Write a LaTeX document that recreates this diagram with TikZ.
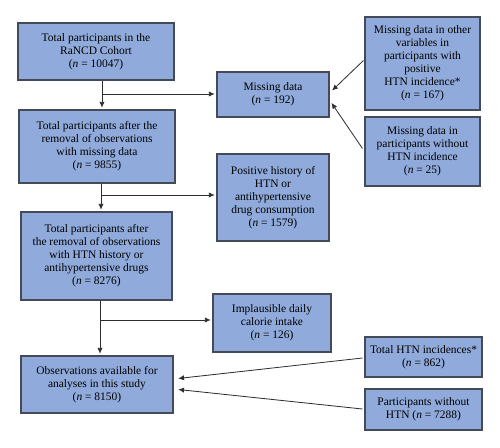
\documentclass[tikz,border=0pt]{standalone}
\usepackage{fontspec}
\setmainfont{Liberation Serif}
\usetikzlibrary{arrows.meta,calc}
\definecolor{boxfill}{RGB}{143,170,219}
\definecolor{boxline}{RGB}{68,74,86}
\definecolor{arrline}{RGB}{45,45,45}
\tikzset{
box/.style={draw=boxline,fill=boxfill,line width=0.9pt,align=center,inner sep=0pt,font=\fontsize{9.8}{11.1}\selectfont},
arr/.style={draw=arrline,line width=0.7pt,-{Latex[length=5pt,width=4.5pt]},shorten >=1.5pt}
}
\begin{document}
\begin{tikzpicture}[x=0.03cm,y=-0.03cm]
\useasboundingbox (0,0) rectangle (500,448);

\node[box,minimum width=4.68cm,minimum height=1.71cm] (total) at (96,51.5) {Total participants in the\\RaNCD Cohort\\(\textit{n} = 10047)};
\node[box,minimum width=4.68cm,minimum height=2.19cm] (removed) at (97,146.5) {Total participants after the\\removal of observations\\with missing data\\(\textit{n} = 9855)};
\node[box,minimum width=4.53cm,minimum height=2.64cm] (nohtn) at (96.5,256) {Total participants after\\the removal of observations\\with HTN history or\\antihypertensive drugs\\(\textit{n} = 8276)};
\node[box,minimum width=4.56cm,minimum height=1.71cm] (final) at (97,384.5) {Observations available for\\analyses in this study\\(\textit{n} = 8150)};

\node[box,minimum width=3.36cm,minimum height=1.35cm] (missing) at (273,94.5) {Missing data\\(\textit{n} = 192)};
\node[box,minimum width=3.36cm,minimum height=2.61cm] (history) at (273,197.5) {Positive history of\\HTN or\\antihypertensive\\drug consumption\\(\textit{n} = 1579)};
\node[box,minimum width=3.54cm,minimum height=1.74cm] (calorie) at (272,323) {Implausible daily\\calorie intake\\(\textit{n} = 126)};

\node[box,minimum width=3.45cm,minimum height=2.79cm] (misspos) at (422.5,63.5) {Missing data in other\\variables in\\participants with\\positive\\HTN incidence*\\(\textit{n} = 167)};
\node[box,minimum width=3.45cm,minimum height=2.07cm] (missneg) at (422.5,151.5) {Missing data in\\participants without\\HTN incidence\\(\textit{n} = 25)};
\node[box,minimum width=3.51cm,minimum height=1.2cm] (inc) at (423.5,357) {Total HTN incidences*\\(\textit{n} = 862)};
\node[box,minimum width=3.51cm,minimum height=1.23cm] (noinc) at (423.5,409.5) {Participants without\\HTN (\textit{n} = 7288)};

\coordinate (j1) at (102,94);
\coordinate (j2) at (101,195);
\coordinate (j3) at (100,320);

\draw[arr] (total.south -| j1) -- (removed.north -| j1);
\draw[arr] (j1) -- (missing.west |- j1);
\draw[arr] (removed.south -| j2) -- (nohtn.north -| j2);
\draw[arr] (j2) -- (history.west |- j2);
\draw[arr] (nohtn.south -| j3) -- (final.north -| j3);
\draw[arr] (j3) -- (calorie.west |- j3);

\draw[arr,shorten >=3pt] ($(misspos.west)+(-1,-3)$) -- ($(missing.east)+(0,-1.5)$);
\draw[arr,shorten >=3pt] ($(missneg.west)+(-2,-3)$) -- ($(missing.east)+(0,5.5)$);
\draw[arr,shorten >=4pt] ($(inc.west)+(-2,1)$) -- ($(final.east)+(0,-5.5)$);
\draw[arr,shorten >=4pt] ($(noinc.west)+(-2,-0.5)$) -- ($(final.east)+(0,4.5)$);
\end{tikzpicture}
\end{document}
